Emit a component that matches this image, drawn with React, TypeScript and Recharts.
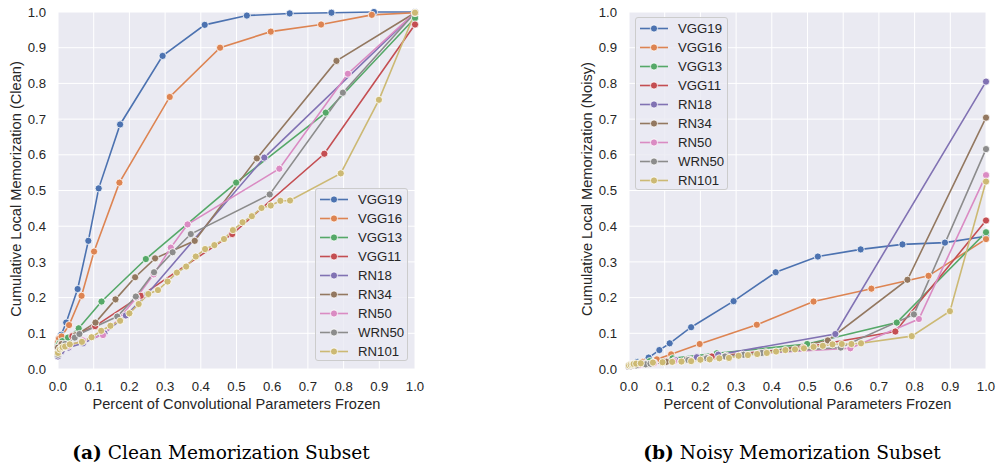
import React from 'react';
import { CartesianGrid, Label, Line, LineChart, XAxis, YAxis } from 'recharts';

const modelNames = ['VGG19', 'VGG16', 'VGG13', 'VGG11', 'RN18', 'RN34', 'RN50', 'WRN50', 'RN101'];
const palette = ['#4C72B0', '#DD8452', '#55A868', '#C44E52', '#8172B3', '#937860', '#DA8BC3', '#8C8C8C', '#CCB974'];
const axisTicks = [0, 0.1, 0.2, 0.3, 0.4, 0.5, 0.6, 0.7, 0.8, 0.9, 1.0];

// fraction of conv params frozen (x) and cumulative memorization (y)
const vgg19Frac = [0, 0.003, 0.009, 0.023, 0.055, 0.085, 0.114, 0.174, 0.293, 0.411, 0.529, 0.649, 0.766, 0.885, 1.0];
const vgg19Clean = [0.07, 0.085, 0.096, 0.13, 0.224, 0.359, 0.506, 0.685, 0.877, 0.964, 0.99, 0.996, 0.998, 1.0, 1.0];
const vgg19Noisy = [0.008, 0.01, 0.012, 0.02, 0.032, 0.053, 0.072, 0.117, 0.19, 0.271, 0.315, 0.335, 0.349, 0.354, 0.372];

const vgg16FracClean = [0, 0.003, 0.01, 0.031, 0.066, 0.101, 0.172, 0.313, 0.454, 0.596, 0.737, 0.879, 1.0];
const vgg16Clean = [0.075, 0.085, 0.091, 0.123, 0.205, 0.329, 0.522, 0.762, 0.9, 0.945, 0.965, 0.992, 0.998];
const vgg16FracNoisy = [0, 0.003, 0.008, 0.018, 0.038, 0.078, 0.118, 0.198, 0.358, 0.517, 0.679, 0.839, 1.0];
const vgg16Noisy = [0.008, 0.01, 0.012, 0.015, 0.02, 0.027, 0.041, 0.07, 0.124, 0.189, 0.225, 0.261, 0.364];

const vgg13Frac = [0, 0.004, 0.012, 0.028, 0.058, 0.122, 0.246, 0.499, 0.75, 1.0];
const vgg13Clean = [0.065, 0.072, 0.078, 0.088, 0.114, 0.189, 0.308, 0.522, 0.718, 0.983];
const vgg13Noisy = [0.008, 0.01, 0.012, 0.016, 0.022, 0.03, 0.044, 0.07, 0.13, 0.383];

const vgg11Frac = [0, 0.008, 0.04, 0.104, 0.232, 0.488, 0.746, 1.0];
const vgg11Clean = [0.06, 0.07, 0.092, 0.12, 0.205, 0.378, 0.603, 0.965];
const vgg11Noisy = [0.008, 0.01, 0.015, 0.022, 0.035, 0.06, 0.105, 0.416];

const rn18Frac = [0, 0.01, 0.03, 0.07, 0.13, 0.19, 0.25, 0.578, 1.0];
const rn18Clean = [0.035, 0.05, 0.06, 0.072, 0.1, 0.15, 0.21, 0.592, 0.998];
const rn18Noisy = [0.008, 0.01, 0.012, 0.018, 0.025, 0.033, 0.04, 0.098, 0.805];

const rn34Frac = [0, 0.01, 0.05, 0.105, 0.161, 0.216, 0.272, 0.383, 0.557, 0.78, 1.0];
const rn34Clean = [0.06, 0.07, 0.095, 0.13, 0.195, 0.257, 0.31, 0.359, 0.59, 0.863, 0.998];
const rn34Noisy = [0.008, 0.01, 0.014, 0.02, 0.026, 0.032, 0.037, 0.047, 0.08, 0.25, 0.704];

const rn50Frac = [0, 0.03, 0.07, 0.126, 0.17, 0.22, 0.268, 0.316, 0.363, 0.62, 0.812, 1.0];
const rn50Clean = [0.045, 0.065, 0.08, 0.095, 0.14, 0.2, 0.265, 0.34, 0.405, 0.561, 0.827, 0.998];
const rn50Noisy = [0.008, 0.012, 0.016, 0.022, 0.026, 0.03, 0.035, 0.04, 0.044, 0.058, 0.14, 0.543];

const wrn50Frac = [0, 0.02, 0.047, 0.06, 0.166, 0.218, 0.269, 0.321, 0.372, 0.593, 0.798, 1.0];
const wrn50Clean = [0.04, 0.07, 0.088, 0.098, 0.147, 0.203, 0.271, 0.327, 0.378, 0.489, 0.774, 0.998];
const wrn50Noisy = [0.008, 0.01, 0.013, 0.015, 0.025, 0.03, 0.035, 0.04, 0.045, 0.06, 0.153, 0.616];

const rn101Frac = [
    0, 0.005, 0.01, 0.013, 0.02, 0.033, 0.067, 0.094, 0.121, 0.147, 0.174, 0.2, 0.226, 0.253, 0.28, 0.307,
    0.333, 0.359, 0.386, 0.412, 0.438, 0.465, 0.49, 0.517, 0.543, 0.57, 0.596, 0.623, 0.65, 0.792, 0.899, 1.0,
];
const rn101Clean = [
    0.045, 0.055, 0.059, 0.061, 0.063, 0.069, 0.076, 0.089, 0.107, 0.121, 0.135, 0.156, 0.182, 0.21, 0.221, 0.245,
    0.27, 0.287, 0.315, 0.336, 0.347, 0.364, 0.389, 0.411, 0.428, 0.451, 0.458, 0.471, 0.472, 0.548, 0.754, 0.998,
];
const rn101Noisy = [
    0.01, 0.012, 0.013, 0.014, 0.015, 0.016, 0.018, 0.019, 0.02, 0.021, 0.022, 0.026, 0.027, 0.03, 0.031, 0.037,
    0.039, 0.042, 0.045, 0.049, 0.053, 0.055, 0.058, 0.062, 0.065, 0.069, 0.07, 0.07, 0.072, 0.092, 0.162, 0.525,
];

const pair = (xs: number[], ys: number[]) => xs.map((x, i) => ({ x, y: ys[i] }));

const cleanSeries = [
    pair(vgg19Frac, vgg19Clean),
    pair(vgg16FracClean, vgg16Clean),
    pair(vgg13Frac, vgg13Clean),
    pair(vgg11Frac, vgg11Clean),
    pair(rn18Frac, rn18Clean),
    pair(rn34Frac, rn34Clean),
    pair(rn50Frac, rn50Clean),
    pair(wrn50Frac, wrn50Clean),
    pair(rn101Frac, rn101Clean),
];

const noisySeries = [
    pair(vgg19Frac, vgg19Noisy),
    pair(vgg16FracNoisy, vgg16Noisy),
    pair(vgg13Frac, vgg13Noisy),
    pair(vgg11Frac, vgg11Noisy),
    pair(rn18Frac, rn18Noisy),
    pair(rn34Frac, rn34Noisy),
    pair(rn50Frac, rn50Noisy),
    pair(wrn50Frac, wrn50Noisy),
    pair(rn101Frac, rn101Noisy),
];

const sansFont = '"Liberation Sans", Arial, sans-serif';
const textColor = '#262626';

function LegendBox({ left, top }: { left: number; top: number }) {
    return (
        <div
            style={{
                position: 'absolute',
                left,
                top,
                width: 93,
                height: 173,
                paddingTop: 1,
                boxSizing: 'border-box',
                border: '1px solid #CCCCCC',
                borderRadius: 3,
                background: 'rgba(234,234,242,0.8)',
                fontFamily: sansFont,
                fontSize: 13.2,
                color: textColor,
            }}
        >
            {modelNames.map((name, i) => (
                <div key={name} style={{ display: 'flex', alignItems: 'center', height: 19 }}>
                    <svg width={28} height={19} style={{ marginLeft: 4 }}>
                        <line x1={0} y1={9.5} x2={28} y2={9.5} stroke={palette[i]} strokeWidth={1.6} />
                        <circle cx={14} cy={9.5} r={3.6} fill={palette[i]} stroke='#fff' strokeWidth={0.8} />
                    </svg>
                    <span style={{ marginLeft: 10 }}>{name}</span>
                </div>
            ))}
        </div>
    );
}

interface PanelProps {
    left: number;
    series: { x: number; y: number }[][];
    yTitle: string;
    tag: string;
    caption: string;
    legendLeft: number;
    legendTop: number;
}

function Panel({ left, series, yTitle, tag, caption, legendLeft, legendTop }: PanelProps) {
    return (
        <div style={{ position: 'absolute', left, top: 0, width: 430, height: 466 }}>
            <LineChart
                width={430}
                height={420}
                margin={{ top: 12, right: 15, bottom: 0, left: 0 }}
                style={{ fontFamily: sansFont }}
            >
                <CartesianGrid fill='#EAEAF2' stroke='#FFFFFF' strokeWidth={1} horizontalValues={axisTicks} verticalValues={axisTicks} />
                <XAxis
                    dataKey='x'
                    type='number'
                    domain={[0, 1]}
                    ticks={axisTicks}
                    tickFormatter={(v: number) => v.toFixed(1)}
                    axisLine={false}
                    tickLine={false}
                    tickSize={6}
                    tickMargin={7}
                    height={51}
                    tick={{ fill: textColor, fontSize: 13.2 }}
                    allowDuplicatedCategory={false}
                >
                    <Label
                        value='Percent of Convolutional Parameters Frozen'
                        position='insideBottom'
                        offset={11}
                        style={{ fill: textColor, fontSize: 14.6 }}
                    />
                </XAxis>
                <YAxis
                    type='number'
                    domain={[0, 1]}
                    ticks={axisTicks}
                    tickFormatter={(v: number) => v.toFixed(1)}
                    axisLine={false}
                    tickLine={false}
                    tickSize={6}
                    tickMargin={6}
                    width={58}
                    tick={{ fill: textColor, fontSize: 13.2 }}
                />
                {series.map((points, i) => (
                    <Line
                        key={modelNames[i]}
                        data={points}
                        dataKey='y'
                        name={modelNames[i]}
                        type='linear'
                        stroke={palette[i]}
                        strokeWidth={1.6}
                        dot={{ r: 3.6, fill: palette[i], stroke: '#FFFFFF', strokeWidth: 0.8, fillOpacity: 1 }}
                        activeDot={false}
                        isAnimationActive={false}
                    />
                ))}
            </LineChart>
            <div
                style={{
                    position: 'absolute',
                    left: 15.5,
                    top: 189,
                    transform: 'translate(-50%, -50%) rotate(-90deg)',
                    whiteSpace: 'nowrap',
                    fontFamily: sansFont,
                    fontSize: 14.6,
                    color: textColor,
                }}
            >
                {yTitle}
            </div>
            <LegendBox left={legendLeft} top={legendTop} />
            <div
                style={{
                    position: 'absolute',
                    left: 0,
                    width: 442,
                    top: 443,
                    lineHeight: '20px',
                    textAlign: 'center',
                    fontFamily: '"DejaVu Serif", "Liberation Serif", serif',
                    fontSize: 18.6,
                    color: '#000',
                    whiteSpace: 'nowrap',
                }}
            >
                <b>{tag}</b> {caption}
            </div>
        </div>
    );
}

export default function App() {
    return (
        <div style={{ position: 'absolute', left: 0, top: 0, width: 997, height: 466, background: '#fff' }}>
            <Panel
                left={0}
                series={cleanSeries}
                yTitle='Cumulative Local Memorization (Clean)'
                tag='(a)'
                caption='Clean Memorization Subset'
                legendLeft={315}
                legendTop={188}
            />
            <Panel
                left={571}
                series={noisySeries}
                yTitle='Cumulative Local Memorization (Noisy)'
                tag='(b)'
                caption='Noisy Memorization Subset'
                legendLeft={64}
                legendTop={17}
            />
        </div>
    );
}
